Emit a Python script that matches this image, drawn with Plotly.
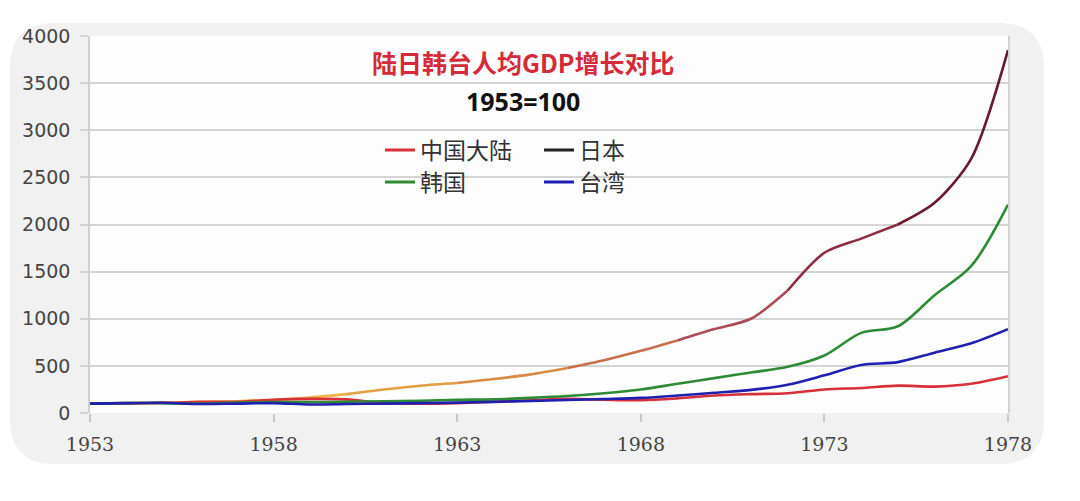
import plotly.graph_objects as go

years = list(range(1953, 1979))
china = [100, 102, 107, 118, 120, 140, 150, 145, 105, 98, 105, 120, 135, 150, 140, 135,
         155, 185, 200, 210, 250, 265, 290, 280, 310, 390]
japan = [100, 105, 110, 115, 125, 140, 165, 200, 250, 290, 318, 360, 410, 477, 560, 660,
         770, 890, 1000, 1300, 1700, 1850, 2000, 2230, 2700, 3850]
korea = [100, 105, 105, 100, 110, 115, 115, 120, 125, 130, 140, 145, 160, 180, 210, 250,
         310, 370, 430, 490, 610, 850, 920, 1250, 1560, 2210]
taiwan = [100, 105, 108, 95, 100, 105, 90, 95, 100, 105, 110, 118, 128, 138, 148, 160,
          185, 215, 245, 300, 400, 510, 540, 640, 740, 890]

names = ["中国大陆", "日本", "韩国", "台湾"]
colors = {"中国大陆": "#d8303a", "日本": "#222222", "韩国": "#2e8a34", "台湾": "#2020b0"}
x_ticks = [1953, 1958, 1963, 1968, 1973, 1978]
y_ticks = [0, 500, 1000, 1500, 2000, 2500, 3000, 3500, 4000]

# colour bands used to imitate the gradient of the Japan curve (start year, end year, colour)
japan_bands = [(1953, 1957, "#f2c84a"), (1957, 1960, "#eeb444"), (1960, 1963, "#e49e42"),
               (1963, 1966, "#d88a46"), (1966, 1969, "#c8704e"), (1969, 1972, "#ab4c58"),
               (1972, 1975, "#8c2d42"), (1975, 1978, "#6a1a2e")]

fig = go.Figure()

# Japan: drawn band by band so its colour shifts along the curve
for a, b, col in japan_bands:
    i0, i1 = years.index(a), years.index(b)
    fig.add_trace(go.Scatter(
        x=years[i0:i1 + 1], y=japan[i0:i1 + 1], mode="lines",
        line=dict(color=col, width=2.6, shape="spline", smoothing=0.8),
        showlegend=False, hoverinfo="skip"))

for nm, data in [("中国大陆", china), ("韩国", korea), ("台湾", taiwan)]:
    fig.add_trace(go.Scatter(x=years, y=data, mode="lines", name=nm,
                             line=dict(color=colors[nm], width=2.6, shape="spline", smoothing=0.9),
                             showlegend=False))

# legend entries (two rows of two)
for nm, lg in zip(names, ["legend", "legend", "legend2", "legend2"]):
    fig.add_trace(go.Scatter(x=[None], y=[None], mode="lines", name=nm,
                             line=dict(color=colors[nm], width=3), legend=lg))

L, R, T, B = 90, 72, 36, 88
W, H = 1080, 501
pw, ph = W - L - R, H - T - B


def px(xp):
    return (xp - L) / pw


def py(yp):
    return (H - B - yp) / ph


def rounded(x0, y0, x1, y1, r):
    pts = [
        f"M {px(x0 + r)},{py(y0)}",
        f"L {px(x1 - r)},{py(y0)}",
        f"Q {px(x1)},{py(y0)} {px(x1)},{py(y0 + r)}",
        f"L {px(x1)},{py(y1 - r)}",
        f"Q {px(x1)},{py(y1)} {px(x1 - r)},{py(y1)}",
        f"L {px(x0 + r)},{py(y1)}",
        f"Q {px(x0)},{py(y1)} {px(x0)},{py(y1 - r)}",
        f"L {px(x0)},{py(y0 + r)}",
        f"Q {px(x0)},{py(y0)} {px(x0 + r)},{py(y0)}",
        "Z",
    ]
    return " ".join(pts)


shapes = [
    dict(type="path", xref="paper", yref="paper", path=rounded(10, 23, 1044, 464, 45),
         fillcolor="#f1f1f1", line=dict(width=0), layer="below"),
    dict(type="rect", xref="paper", yref="paper", x0=0, x1=1, y0=0, y1=1,
         fillcolor="#fdfdfd", line=dict(width=0), layer="below"),
]

legend_font = dict(family="Noto Sans CJK SC", size=23, color="#333")

fig.update_layout(
    width=W, height=H,
    margin=dict(l=L, r=R, t=T, b=B),
    paper_bgcolor="white",
    plot_bgcolor="rgba(0,0,0,0)",
    shapes=shapes,
    legend=dict(orientation="h", x=px(380), y=py(150), xanchor="left", yanchor="middle",
                bgcolor="rgba(0,0,0,0)", entrywidth=114, itemwidth=30, font=legend_font),
    legend2=dict(orientation="h", x=px(380), y=py(182), xanchor="left", yanchor="middle",
                 bgcolor="rgba(0,0,0,0)", entrywidth=114, itemwidth=30, font=legend_font),
    annotations=[
        dict(text="<b>陆日韩台人均GDP增长对比</b>", x=px(523), y=py(62), xref="paper", yref="paper",
             xanchor="center", yanchor="middle",
             showarrow=False, font=dict(family="Noto Sans CJK SC", size=25, color="#d42a3a")),
        dict(text="<b>1953=100</b>", x=px(523), y=py(101), xref="paper", yref="paper",
             xanchor="center", yanchor="middle",
             showarrow=False, font=dict(family="Noto Sans", size=25, color="#111")),
    ],
)

fig.update_xaxes(
    range=[1953, 1978], tickvals=x_ticks, ticktext=[str(v) for v in x_ticks],
    showgrid=False, zeroline=False, showline=False,
    ticks="outside", ticklen=8, tickcolor="#c8c8c8", tickwidth=1.5, ticklabelstandoff=6,
    tickfont=dict(family="DejaVu Serif", size=19, color="#444"),
)
fig.update_yaxes(
    range=[0, 4000], tickvals=y_ticks, ticktext=[str(v) for v in y_ticks],
    showgrid=True, gridcolor="#d4d4d4", gridwidth=1.5, zeroline=False,
    showline=True, linecolor="#d0d0d0", linewidth=1.5, mirror=True,
    ticks="outside", ticklen=8, tickcolor="#d4d4d4", tickwidth=1.5, ticklabelstandoff=6,
    tickfont=dict(family="DejaVu Sans", size=19, color="#444"),
)

fig.write_html("out.html")
